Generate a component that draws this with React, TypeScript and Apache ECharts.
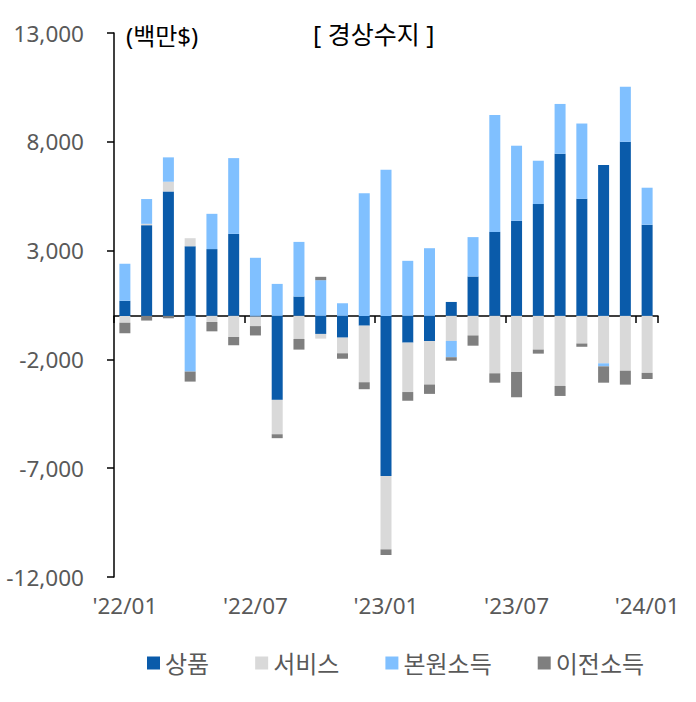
import React, { useRef, useEffect } from 'react'
import * as echarts from 'echarts'

const FONT = "'Noto Sans', 'Noto Sans CJK KR', sans-serif"

// '22/01 ~ '24/01
const months = [
  "'22/01", "'22/02", "'22/03", "'22/04", "'22/05", "'22/06",
  "'22/07", "'22/08", "'22/09", "'22/10", "'22/11", "'22/12",
  "'23/01", "'23/02", "'23/03", "'23/04", "'23/05", "'23/06",
  "'23/07", "'23/08", "'23/09", "'23/10", "'23/11", "'23/12",
  "'24/01",
]

// 단위: 백만$
const goods = [690, 4170, 5720, 3200, 3070, 3770, -30, -3860, 890, -830, -1000, -450, -7360, -1230, -1160, 640, 1810, 3860, 4370, 5140, 7450, 5380, 6930, 8000, 4190]
const services = [-310, 60, 445, 370, -280, -970, -440, -1580, -1060, -215, -720, -2600, -3370, -2270, -1995, -1150, -900, -2640, -2580, -1550, -3220, -1270, -2180, -2520, -2620]
const primaryIncome = [1700, 1140, 1120, -2560, 1620, 3480, 2670, 1470, 2510, 1640, 580, 5640, 6720, 2530, 3110, -750, 1810, 5370, 3450, 1990, 2290, 3460, -140, 2530, 1700]
const secondaryIncome = [-490, -215, -110, -460, -430, -380, -430, -180, -490, 155, -250, -320, -260, -400, -430, -160, -470, -430, -1160, -185, -460, -150, -750, -640, -280]

const seriesNames = ['상품', '서비스', '본원소득', '이전소득']
const seriesColors = ['#0A5BAA', '#D9D9D9', '#80C0FF', '#7F7F7F']

const yMin = -12000
const yMax = 13000
const yStep = 5000

function App() {
  const chartRef = useRef(null)

  useEffect(() => {
    document.body.style.margin = '0'
    const chart = echarts.init(chartRef.current, null, { renderer: 'svg' })

    const values = [goods, services, primaryIncome, secondaryIncome]

    const option = {
      animation: false,
      textStyle: { fontFamily: FONT },
      grid: { left: 114, right: 38, top: 33, bottom: 125 },
      legend: {
        left: 147,
        top: 651,
        padding: 0,
        icon: 'rect',
        itemWidth: 13,
        itemHeight: 13,
        itemGap: 46,
        textStyle: { fontSize: 24, color: '#595959', fontFamily: FONT },
        data: seriesNames,
      },
      graphic: [
        {
          type: 'text',
          x: 126,
          y: 35,
          style: { text: '(백만$)', fontSize: 24, fill: '#000', fontFamily: FONT, verticalAlign: 'middle' },
        },
        {
          type: 'text',
          x: 313,
          y: 34,
          style: { text: '[ 경상수지 ]', fontSize: 25, fill: '#000', fontFamily: FONT, verticalAlign: 'middle' },
        },
      ],
      xAxis: [
        {
          type: 'category',
          data: months,
          boundaryGap: true,
          axisLine: { onZero: true, lineStyle: { color: '#000', width: 1.5 } },
          axisTick: { show: true, interval: 5, length: 7, lineStyle: { color: '#000', width: 1.5 } },
          axisLabel: { show: false },
        },
        {
          type: 'category',
          data: months,
          position: 'bottom',
          boundaryGap: true,
          axisLine: { show: false, onZero: false },
          axisTick: { show: false },
          axisLabel: { interval: 5, fontSize: 22.5, color: '#595959', margin: 17, fontFamily: FONT },
        },
      ],
      yAxis: {
        type: 'value',
        min: yMin,
        max: yMax,
        interval: yStep,
        axisLine: { show: true, lineStyle: { color: '#000', width: 1.5 } },
        axisTick: { show: true, length: 7, lineStyle: { color: '#000', width: 1.5 } },
        splitLine: { show: false },
        axisLabel: {
          fontSize: 22.5,
          color: '#595959',
          margin: 30,
          fontFamily: FONT,
          formatter: (v: number) => v.toLocaleString('en-US'),
        },
      },
      series: seriesNames.map((name, i) => ({
        name,
        type: 'bar',
        stack: 'total',
        barWidth: 11,
        itemStyle: { color: seriesColors[i] },
        data: values[i],
      })),
    }

    chart.setOption(option)

    return () => {
      chart.dispose()
    }
  }, [])

  return (
    <div
      ref={chartRef}
      style={{ position: 'fixed', left: 0, top: 0, width: 696, height: 702, background: '#fff' }}
    ></div>
  )
}

export default App
